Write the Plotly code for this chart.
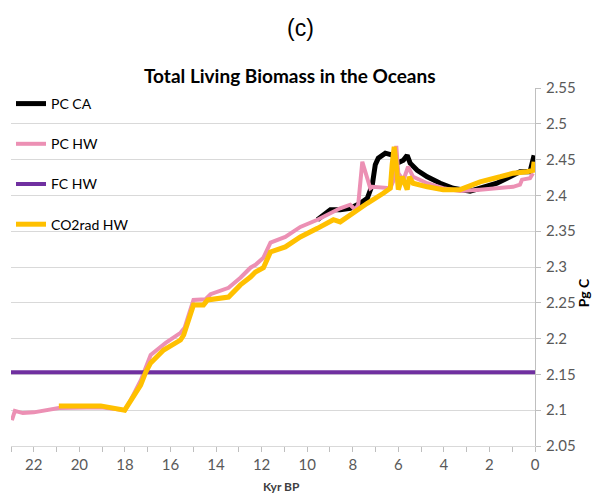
import plotly.graph_objects as go

# ---- data (Kyr BP, Pg C) ----
pc_ca_x = [9.55, 8.98, 8.55, 8.11, 7.67, 7.36, 7.14, 7.01, 6.88, 6.57, 6.22, 6.05, 5.78, 5.61, 5.48,
           5.17, 4.73, 4.16, 3.59, 2.85, 2.41, 1.67, 1.23, 0.66, 0.22, 0.04]
pc_ca_y = [2.366, 2.380, 2.380, 2.382, 2.389, 2.396, 2.415, 2.443, 2.452, 2.459, 2.456, 2.445, 2.449, 2.456, 2.445,
           2.435, 2.426, 2.417, 2.410, 2.406, 2.410, 2.417, 2.424, 2.433, 2.433, 2.456]

pc_hw_x = [22.96, 22.83, 22.48, 22.0, 20.9, 19.06, 18.0, 17.75, 17.3, 17.0, 16.87, 16.21, 15.56, 15.38, 14.99,
           14.46, 14.24, 13.45, 12.93, 12.49, 12.27, 11.92, 11.61, 10.96, 10.30, 9.55, 8.85, 8.55, 8.11, 7.89,
           7.76, 7.58, 7.23, 7.14, 6.35, 6.22, 6.09, 6.0, 5.78, 5.57, 5.35, 4.73, 4.03, 3.29, 2.41, 1.53,
           0.96, 0.66, 0.57, 0.22, 0.09]
pc_hw_y = [2.086, 2.099, 2.096, 2.097, 2.103, 2.104, 2.100, 2.114, 2.142, 2.167, 2.177, 2.194, 2.208, 2.215, 2.254,
           2.255, 2.262, 2.271, 2.285, 2.299, 2.303, 2.313, 2.334, 2.342, 2.356, 2.366, 2.377, 2.382, 2.387, 2.380,
           2.387, 2.447, 2.410, 2.412, 2.410, 2.420, 2.469, 2.431, 2.421, 2.440, 2.426, 2.417, 2.410, 2.406, 2.408, 2.410,
           2.412, 2.415, 2.422, 2.424, 2.431]

fc_hw_x = [23.0, 0.0]
fc_hw_y = [2.153, 2.153]

co2_x = [20.9, 19.06, 18.01, 17.75, 17.31, 17.09, 16.87, 16.3, 15.56, 15.42, 14.99, 14.55, 14.37, 13.45, 12.93,
         12.49, 12.27, 11.92, 11.61, 10.96, 10.30, 9.55, 8.85, 8.55, 8.11, 7.36, 6.66, 6.35, 6.27, 6.18,
         6.09, 6.0, 5.83, 5.61, 5.52, 5.35, 4.73, 4.03, 3.29, 2.41, 1.53, 0.96, 0.35, 0.09, 0.04]
co2_y = [2.106, 2.106, 2.100, 2.114, 2.135, 2.153, 2.166, 2.184, 2.198, 2.205, 2.247, 2.247, 2.254, 2.258, 2.275,
         2.286, 2.293, 2.299, 2.321, 2.328, 2.342, 2.354, 2.366, 2.363, 2.373, 2.389, 2.403, 2.410, 2.443, 2.468,
         2.443, 2.408, 2.426, 2.408, 2.426, 2.417, 2.412, 2.408, 2.408, 2.419, 2.426, 2.431, 2.433, 2.435, 2.447]

x_tickvals = [22, 20, 18, 16, 14, 12, 10, 8, 6, 4, 2, 0]
x_ticktext = ["22", "20", "18", "16", "14", "12", "10", "8", "6", "4", "2", "0"]
y_tickvals = [2.05, 2.1, 2.15, 2.2, 2.25, 2.3, 2.35, 2.4, 2.45, 2.5, 2.55]
y_ticktext = ["2.05", "2.1", "2.15", "2.2", "2.25", "2.3", "2.35", "2.4", "2.45", "2.5", "2.55"]

series = [
    ("PC CA", pc_ca_x, pc_ca_y, "#000000", 5),
    ("PC HW", pc_hw_x, pc_hw_y, "#EC90B4", 4),
    ("FC HW", fc_hw_x, fc_hw_y, "#7030A0", 4),
    ("CO2rad HW", co2_x, co2_y, "#FFC000", 5),
]

fig = go.Figure()
for i, (name, xs, ys, color, w) in enumerate(series):
    fig.add_trace(go.Scatter(x=xs, y=ys, mode="lines", name=name, legendgroup="g%d" % i,
                             line=dict(color=color, width=w)))

font_main = "Lato, 'Open Sans', sans-serif"
grid = "#D9D9D9"
tickc = "#595959"

fig.update_layout(
    width=600, height=498,
    margin=dict(l=3, r=73, t=80, b=60),
    paper_bgcolor="white", plot_bgcolor="white",
    font=dict(family=font_main, color=tickc),
    showlegend=True,
    legend=dict(x=0.0, y=1.0, xanchor="left", yanchor="top", bgcolor="rgba(0,0,0,0)",
                font=dict(size=14, color="#000000", family=font_main),
                itemwidth=30, tracegroupgap=19, traceorder="grouped"),
    xaxis=dict(range=[23, 0], tickvals=x_tickvals, ticktext=x_ticktext,
               ticks="outside", ticklen=5, tickcolor="#BFBFBF",
               minor=dict(dtick=1, ticks="outside", ticklen=5, tickcolor="#BFBFBF", showgrid=False),
               showgrid=False, zeroline=False, showline=True, linecolor=grid,
               tickfont=dict(size=15, color=tickc)),
    yaxis=dict(range=[2.05, 2.55], side="right", tickvals=y_tickvals, ticktext=y_ticktext,
               ticks="outside", ticklen=5, tickcolor="#BFBFBF", ticklabelstandoff=2,
               showgrid=True, gridcolor=grid, gridwidth=1, zeroline=False,
               showline=True, linecolor="#BFBFBF",
               tickfont=dict(size=15, color=tickc)),
    annotations=[
        dict(text="(c)", x=0.5, y=1.0, xref="paper", yref="paper", xanchor="center",
             yanchor="middle", xshift=27, yshift=60, showarrow=False,
             font=dict(family="Liberation Sans, Arial", size=23, color="#000000")),
        dict(text="<b>Total Living Biomass in the Oceans</b>", xref="paper", yref="paper",
             x=0.5, y=1.0, xanchor="center", yanchor="middle", xshift=17, yshift=13, showarrow=False,
             font=dict(family=font_main, size=19, color="#000000")),
        dict(text="<b>Kyr BP</b>", xref="paper", yref="paper", x=0.5, y=0, xanchor="center",
             yanchor="middle", xshift=8, yshift=-40, showarrow=False,
             font=dict(family=font_main, size=12, color="#404040")),
        dict(text="<b>Pg C</b>", xref="paper", yref="paper", x=1, y=0.427, xanchor="center",
             yanchor="middle", xshift=48, textangle=-90, showarrow=False,
             font=dict(family=font_main, size=14, color="#000000")),
    ],
)

fig.write_html("out.html")
